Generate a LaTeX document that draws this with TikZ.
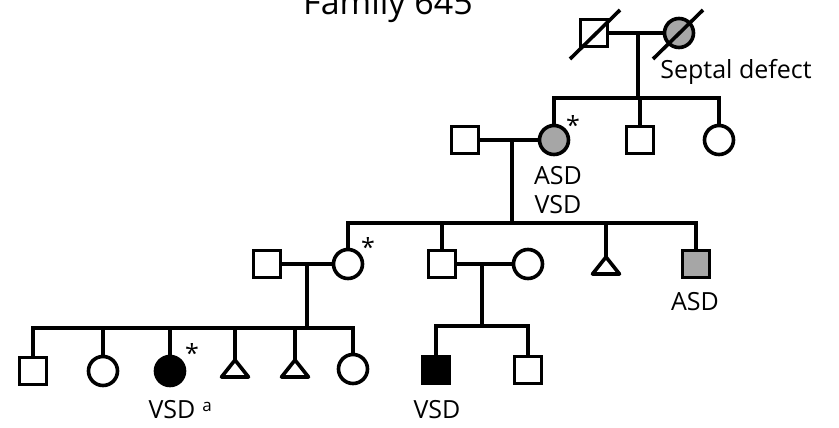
\documentclass[tikz,border=0pt]{standalone}
\usepackage{fontspec}
\setmainfont{Open Sans}
\usetikzlibrary{positioning}
\begin{document}
\begin{tikzpicture}[x=1pt, y=-1pt, line width=3.6pt,
	male/.style={draw, rectangle, minimum size=27pt, inner sep=0pt, fill=white},
	female/.style={draw, circle, minimum size=29pt, inner sep=0pt, fill=white},
	aff/.style={fill=black},
	part/.style={fill=black!35},
	lab/.style={font=\fontsize{25}{29}\selectfont, inner sep=0pt},
	star/.style={font=\fontsize{25}{29}\selectfont, inner sep=0pt}]
	\useasboundingbox (0,0) rectangle (839,428);
	\node[font=\fontsize{34}{40}\selectfont, anchor=base, inner sep=0pt] (title) at (388,15) {Family 645};
	% generation I
	\node[male] (i1) at (594,33) {};
	\node[female, part] (i2) at (679,33) {};
	\coordinate (m1) at (638,33);
	\coordinate (s1) at (638,98);
	\draw (i1) -- (i2);
	\draw (m1) -- (s1);
	\draw (i1.center) ++(-24,26) -- ++(50,-49);
	\draw (i2.center) ++(-26,26) -- ++(50,-49);
	\node[lab] (l1) at (736,72) {Septal defect};
	% generation II
	\node[male] (ii1) at (465,140) {};
	\node[female, part] (ii2) at (554,140) {};
	\node[male] (ii3) at (640,140) {};
	\node[female] (ii4) at (719,140) {};
	\draw (ii2.north) |- (s1) -| (ii4.north);
	\draw (ii3.north) -- (ii3.north |- s1);
	\node[star] (st1) at ([shift={(19,-15)}]ii2.center) {*};
	\node[lab] (l2) at (558,176) {ASD};
	\node[lab] (l3) at (558,205) {VSD};
	\coordinate (m2) at (512,140);
	\coordinate (s2) at (512,223);
	\draw (ii1) -- (ii2);
	\draw (m2) -- (s2);
	% generation III
	\node[male] (iii1) at (267,264) {};
	\node[female] (iii2) at (348,264) {};
	\node[male] (iii3) at (442,264) {};
	\node[female] (iii4) at (528,264) {};
	\coordinate (iii5) at (606,257);
	\node[male, part] (iii6) at (696,264) {};
	\draw (iii2.north) |- (s2) -| (iii6.north);
	\draw (iii3.north) -- (iii3.north |- s2);
	\draw (iii5) -- (iii5 |- s2);
	\draw[line join=round] (iii5) -- ++(13.5,17) -- ++(-27,0) -- cycle;
	\node[star] (st2) at ([shift={(20,-17)}]iii2.center) {*};
	\node[lab] (l4) at (695,302) {ASD};
	\coordinate (m3) at (307,264);
	\coordinate (s3) at (307,328);
	\coordinate (m4) at (482,264);
	\coordinate (s4) at (482,326);
	\draw (iii1) -- (iii2);
	\draw (m3) -- (s3);
	\draw (iii3) -- (iii4);
	\draw (m4) -- (s4);
	% generation IV
	\node[male] (iv1) at (33,371) {};
	\node[female] (iv2) at (103,371) {};
	\node[female, aff] (iv3) at (170,371) {};
	\coordinate (iv4) at (235,360);
	\coordinate (iv5) at (295,360);
	\node[female] (iv6) at (353,369) {};
	\node[male, aff] (iv7) at (436,370) {};
	\node[male] (iv8) at (528,370) {};
	\draw (iv1.north) |- (s3) -| (iv6.north);
	\draw (iv2.north) -- (iv2.north |- s3);
	\draw (iv3.north) -- (iv3.north |- s3);
	\draw (iv4) -- (iv4 |- s3);
	\draw (iv5) -- (iv5 |- s3);
	\draw[line join=round] (iv4) -- ++(13.5,17) -- ++(-27,0) -- cycle;
	\draw[line join=round] (iv5) -- ++(13.5,17) -- ++(-27,0) -- cycle;
	\draw (iv7.north) |- (s4) -| (iv8.north);
	\node[star] (st3) at ([shift={(22,-18)}]iv3.center) {*};
	\node[lab] (l5) at (172,410) {VSD};
	\node[font=\fontsize{17}{19}\selectfont, inner sep=0pt] (l6) at (207,407) {a};
	\node[lab] (l7) at (437,410) {VSD};
\end{tikzpicture}
\end{document}
